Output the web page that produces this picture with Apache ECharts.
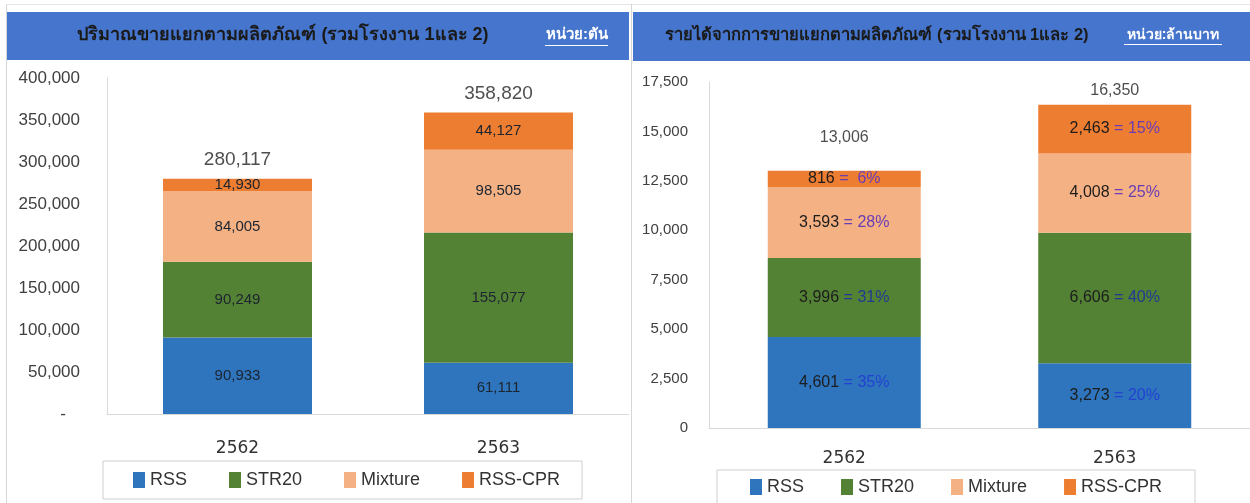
<!DOCTYPE html>
<html>
<head>
<meta charset="utf-8">
<script src="https://cdn.jsdelivr.net/npm/echarts@6/dist/echarts.min.js"></script>
<style>
html,body{margin:0;padding:0;background:#fff;}
#c{width:1250px;height:503px;}
</style>
</head>
<body>
<div id="c"></div>
<script>
// ---- Data ----
const years = ['2562', '2563'];
const seriesNames = ['RSS', 'STR20', 'Mixture', 'RSS-CPR'];

// Left: sales volume (tons)
const volRSS = [90933, 61111];
const volSTR20 = [90249, 155077];
const volMixture = [84005, 98505];
const volCPR = [14930, 44127];
const volTotal = [280117, 358820];

// Right: revenue (million baht)
const revRSS = [4601, 3273];
const revSTR20 = [3996, 6606];
const revMixture = [3593, 4008];
const revCPR = [816, 2463];
const revTotal = [13006, 16350];
const pctRSS = [35, 20];
const pctSTR20 = [31, 40];
const pctMixture = [28, 25];
const pctCPR = [6, 15];

const leftTitle = 'ปริมาณขายแยกตามผลิตภัณฑ์ (รวมโรงงาน 1และ 2)';
const leftUnit = 'หน่วย:ตัน';
const rightTitle = 'รายได้จากการขายแยกตามผลิตภัณฑ์ (รวมโรงงาน 1และ 2)';
const rightUnit = 'หน่วย:ล้านบาท';

// ---- Styles ----
const colors = ['#2e75bd', '#548235', '#f4b183', '#ed7d31'];
const FONT = 'Liberation Sans, Arial, sans-serif';
const fmt = v => v.toLocaleString('en-US');

const chart = echarts.init(document.getElementById('c'), null, {renderer: 'canvas'});

const leftVals = [volRSS, volSTR20, volMixture, volCPR];
const rightVals = [revRSS, revSTR20, revMixture, revCPR];
const rightPcts = [pctRSS, pctSTR20, pctMixture, pctCPR];
const pctColors = ['#2442d0', '#1f3a93', '#6a3db5', '#6a3db5'];

const series = [];
seriesNames.forEach((name, i) => {
  series.push({
    name: name, type: 'bar', stack: 'L', xAxisIndex: 0, yAxisIndex: 0,
    barWidth: 149, data: leftVals[i],
    itemStyle: {color: colors[i]},
    label: {show: true, position: 'inside', fontFamily: FONT, fontSize: 15,
      color: '#1c2430', formatter: p => fmt(p.value)}
  });
});
seriesNames.forEach((name, i) => {
  series.push({
    name: name, type: 'bar', stack: 'R', xAxisIndex: 1, yAxisIndex: 1,
    barWidth: 153, data: rightVals[i],
    itemStyle: {color: colors[i]},
    label: {show: true, position: 'inside', fontFamily: FONT, fontSize: 16,
      formatter: p => '{v|' + fmt(p.value) + '} {p|=} {p|' + (rightPcts[i][p.dataIndex] < 10 ? ' ' : '') + rightPcts[i][p.dataIndex] + '%}',
      rich: {
        v: {color: '#1c1c1c', fontFamily: FONT, fontSize: 16},
        p: {color: pctColors[i], fontFamily: FONT, fontSize: 16}
      }}
  });
});
// total labels
series.push({
  name: 'totalL', type: 'scatter', xAxisIndex: 0, yAxisIndex: 0, symbolSize: 0, silent: true,
  data: volTotal.map((v, k) => ({value: v, label: {offset: [0, [-4, -4][k]]}})),
  label: {show: true, position: 'top', fontFamily: FONT, fontSize: 19, color: '#222', formatter: p => fmt(p.value)}
});
series.push({
  name: 'totalR', type: 'scatter', xAxisIndex: 1, yAxisIndex: 1, symbolSize: 0, silent: true,
  data: revTotal.map((v, k) => ({value: v, label: {offset: [0, [-20, -1][k]]}})),
  label: {show: true, position: 'top', fontFamily: FONT, fontSize: 16, color: '#222', formatter: p => fmt(p.value)}
});

const axisLineStyle = {lineStyle: {color: '#d9d9d9', width: 1}};
const lineStyleBorder = {stroke: '#d6d6d6', lineWidth: 1};

const option = {
  backgroundColor: '#fff',
  animation: false,
  graphic: [
    {type: 'line', shape: {x1: 6.5, y1: 4, x2: 6.5, y2: 503}, style: lineStyleBorder, z: -10},
    {type: 'line', shape: {x1: 6.5, y1: 4.5, x2: 1250, y2: 4.5}, style: {stroke: '#e6e6e6', lineWidth: 1}, z: -10},
    {type: 'line', shape: {x1: 631.5, y1: 4, x2: 631.5, y2: 503}, style: lineStyleBorder, z: -10},
    {type: 'rect', shape: {x: 7, y: 12, width: 622, height: 48}, style: {fill: '#4575cc'}, z: 1},
    {type: 'rect', shape: {x: 633, y: 12, width: 617, height: 49}, style: {fill: '#4575cc'}, z: 1},
    {type: 'text', x: 283, y: 35, style: {text: leftTitle, fill: '#1a1a1a', font: 'bold 18px "Liberation Sans", "Noto Sans", sans-serif', textAlign: 'center', textVerticalAlign: 'middle'}, z: 2},
    {type: 'text', x: 577, y: 35, style: {text: leftUnit, fill: '#ffffff', font: 'bold 15px "Liberation Sans", "Noto Sans", sans-serif', textAlign: 'center', textVerticalAlign: 'middle'}, z: 2},
    {type: 'rect', shape: {x: 545, y: 45, width: 63, height: 1}, style: {fill: '#ffffff'}, z: 2},
    {type: 'text', x: 877, y: 35, style: {text: rightTitle, fill: '#1a1a1a', font: 'bold 16.5px "Liberation Sans", "Noto Sans", sans-serif', textAlign: 'center', textVerticalAlign: 'middle'}, z: 2},
    {type: 'text', x: 1173, y: 35, style: {text: rightUnit, fill: '#ffffff', font: 'bold 14px "Liberation Sans", "Noto Sans", sans-serif', textAlign: 'center', textVerticalAlign: 'middle'}, z: 2},
    {type: 'rect', shape: {x: 1124, y: 44, width: 98, height: 1}, style: {fill: '#ffffff'}, z: 2}
  ],
  legend: [
    {data: seriesNames, left: 103, top: 461, orient: 'horizontal', icon: 'rect', itemWidth: 12, itemHeight: 16,
      itemGap: 42, padding: [10, 22, 10, 30], borderColor: '#cfcfcf', borderWidth: 1,
      textStyle: {fontFamily: FONT, fontSize: 18, color: '#333'}, selectedMode: false},
    {data: seriesNames, left: 717, top: 470, orient: 'horizontal', icon: 'rect', itemWidth: 12, itemHeight: 16,
      itemGap: 37, padding: [8, 33, 12, 33], borderColor: '#cfcfcf', borderWidth: 1,
      textStyle: {fontFamily: FONT, fontSize: 18, color: '#333'}, selectedMode: false}
  ],
  grid: [
    {left: 107, top: 78, width: 522, height: 336},
    {left: 709, top: 82, width: 542, height: 346}
  ],
  xAxis: [
    {type: 'category', gridIndex: 0, data: years, axisTick: {show: false}, axisLine: axisLineStyle,
      axisLabel: {margin: 26, fontFamily: 'DejaVu Sans, sans-serif', fontSize: 17, color: '#333'}},
    {type: 'category', gridIndex: 1, data: years, axisTick: {show: false}, axisLine: axisLineStyle,
      axisLabel: {margin: 22, fontFamily: 'DejaVu Sans, sans-serif', fontSize: 17, color: '#333'}}
  ],
  yAxis: [
    {type: 'value', gridIndex: 0, min: 0, max: 400000, interval: 50000, splitLine: {show: false},
      axisLine: {show: true, lineStyle: {color: '#d9d9d9'}}, axisTick: {show: false},
      axisLabel: {margin: 27, fontFamily: FONT, fontSize: 17, color: '#404040',
        formatter: v => v === 0 ? '-   ' : fmt(v)}},
    {type: 'value', gridIndex: 1, min: 0, max: 17500, interval: 2500, splitLine: {show: false},
      axisLine: {show: true, lineStyle: {color: '#d9d9d9'}}, axisTick: {show: false},
      axisLabel: {margin: 21, fontFamily: FONT, fontSize: 15, color: '#404040', formatter: v => fmt(v)}}
  ],
  series: series
};
chart.setOption(option);
</script>
</body>
</html>
